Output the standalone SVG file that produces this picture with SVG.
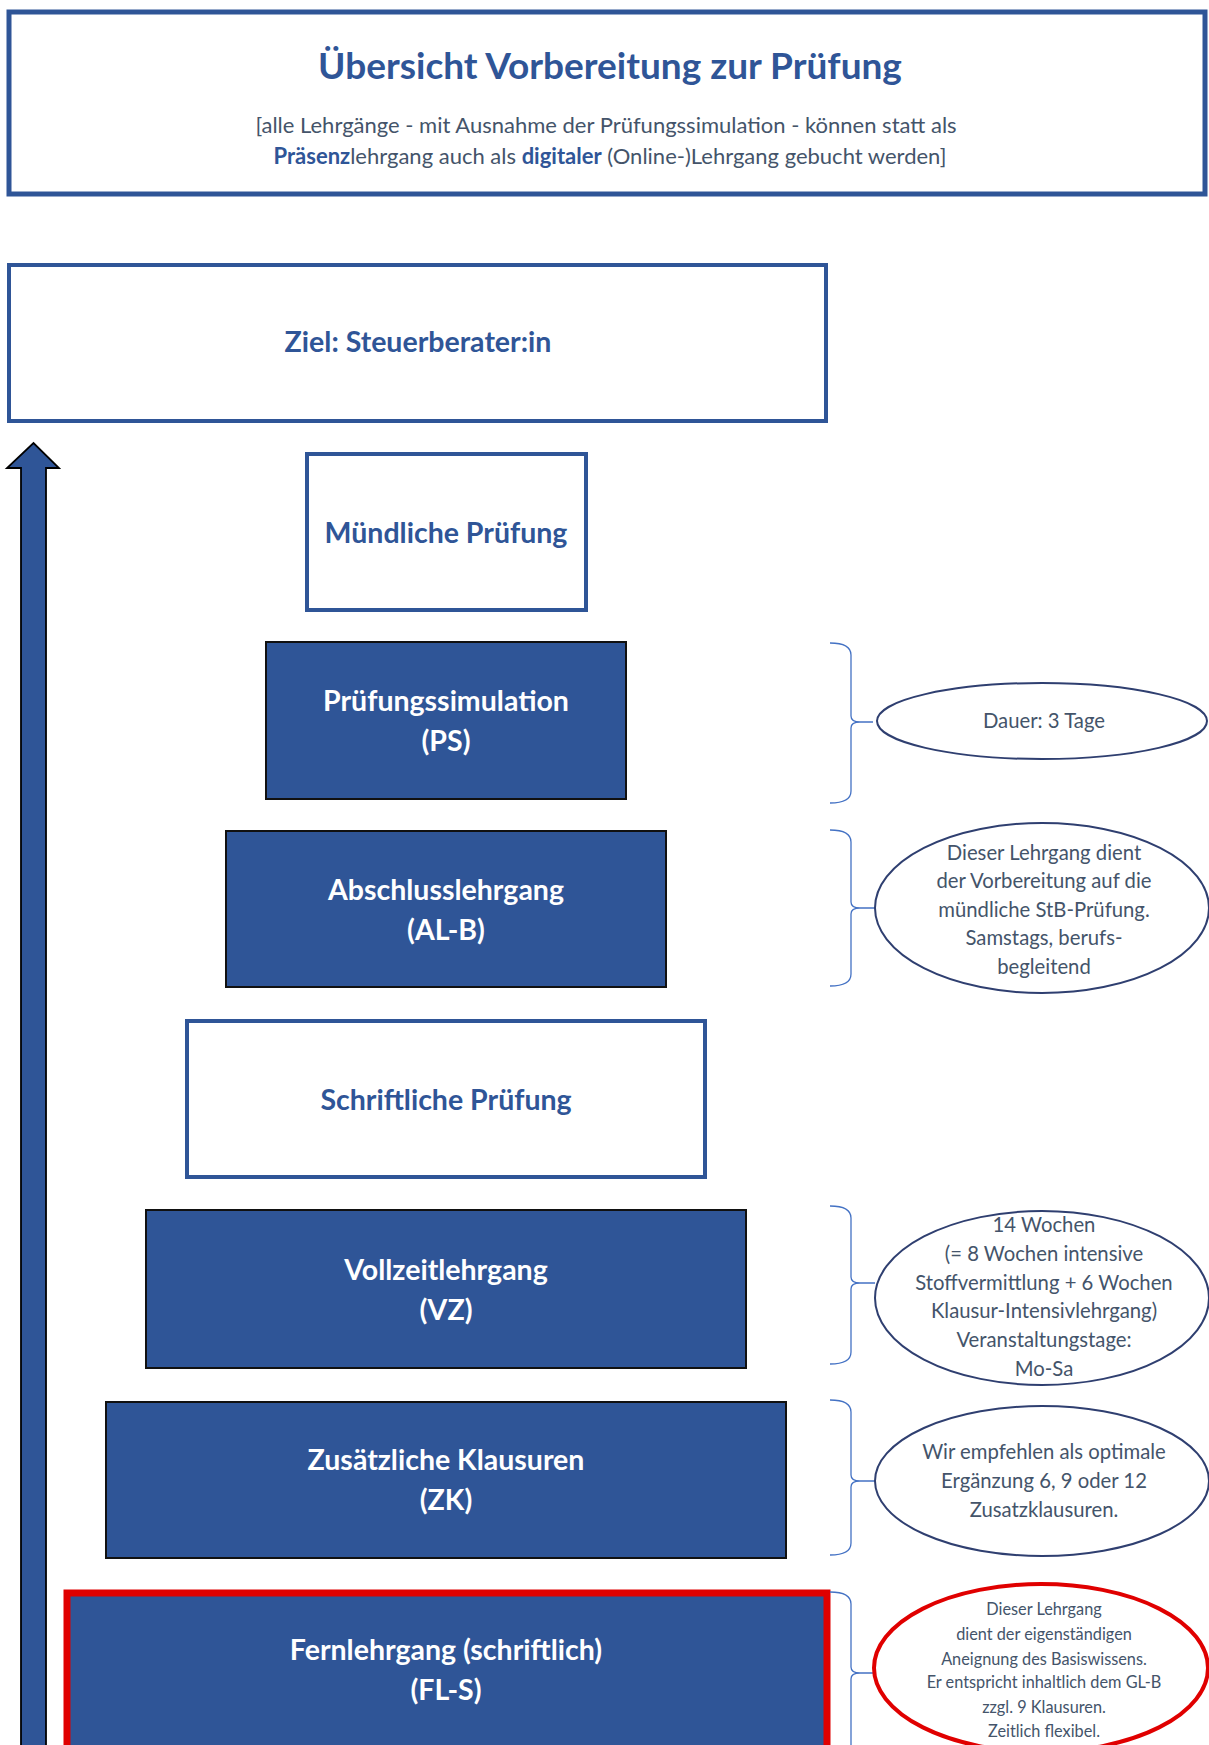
<svg xmlns="http://www.w3.org/2000/svg" width="1209" height="1745" viewBox="0 0 1209 1745">
<style>
.hdr{fill:#fff;stroke:#2F5597;stroke-width:5}
.box{fill:#fff;stroke:#2F5597;stroke-width:4}
.fbox{fill:#2F5597;stroke:#111;stroke-width:2}
.red{fill:#2F5597;stroke:#E00000;stroke-width:7}
.bt{font-family:Lato,"Liberation Sans",sans-serif;font-weight:bold;font-size:28.5px;fill:#2F5597;text-anchor:middle}
.wt{font-family:Lato,"Liberation Sans",sans-serif;font-weight:bold;font-size:28.5px;fill:#fff;text-anchor:middle}
.ell{fill:#fff;stroke:#2F3F70;stroke-width:2}
.ellr{fill:#fff;stroke:#E00000;stroke-width:4}
.et{font-family:Lato,"Liberation Sans",sans-serif;font-size:20.3px;fill:#44546A;text-anchor:middle}
.es{font-family:Lato,"Liberation Sans",sans-serif;font-size:16.3px;fill:#44546A;text-anchor:middle}
.brace{fill:none;stroke:#4472C4;stroke-width:1.3}
</style>
<rect width="1209" height="1745" fill="#fff"/>
<g id="header">
<rect class="hdr" x="9" y="12" width="1196" height="182"/>
<text x="610" y="79" font-family="Lato,'Liberation Sans',sans-serif" font-weight="bold" font-size="37" fill="#2F5597" text-anchor="middle">Übersicht Vorbereitung zur Prüfung</text>
<text x="606" y="133" font-family="Lato,'Liberation Sans',sans-serif" font-size="22" fill="#44546A" text-anchor="middle">[alle Lehrgänge - mit Ausnahme der Prüfungssimulation - können statt als</text>
<text x="610" y="164" font-family="Lato,'Liberation Sans',sans-serif" font-size="22" fill="#44546A" text-anchor="middle"><tspan font-weight="bold" fill="#2F5597">Präsenz</tspan>lehrgang auch als <tspan font-weight="bold" fill="#2F5597">digitaler</tspan> (Online-)Lehrgang gebucht werden]</text>
</g>
<g id="arrow">
<path d="M21,1760 L21,468 L7,468 L33.5,443 L59,468 L46,468 L46,1760 Z" fill="#2F5597" stroke="#000" stroke-width="1.8" stroke-linejoin="miter"/>
</g>
<g id="ziel">
<rect class="box" x="9" y="265" width="817" height="156"/>
<text class="bt" x="418" y="352">Ziel: Steuerberater:in</text>
</g>
<g id="muendlich">
<rect class="box" x="307" y="454" width="279" height="156"/>
<text class="bt" x="446" y="543">Mündliche Prüfung</text>
</g>
<g id="ps">
<rect class="fbox" x="266" y="642" width="360" height="157"/>
<text class="wt" x="446" y="711">Prüfungssimulation</text>
<text class="wt" x="446" y="751">(PS)</text>
</g>
<g id="alb">
<rect class="fbox" x="226" y="831" width="440" height="156"/>
<text class="wt" x="446" y="900">Abschlusslehrgang</text>
<text class="wt" x="446" y="940">(AL-B)</text>
</g>
<g id="schriftlich">
<rect class="box" x="187" y="1021" width="518" height="156"/>
<text class="bt" x="446" y="1110">Schriftliche Prüfung</text>
</g>
<g id="vz">
<rect class="fbox" x="146" y="1210" width="600" height="158"/>
<text class="wt" x="446" y="1280">Vollzeitlehrgang</text>
<text class="wt" x="446" y="1320">(VZ)</text>
</g>
<g id="zk">
<rect class="fbox" x="106" y="1402" width="680" height="156"/>
<text class="wt" x="446" y="1470">Zusätzliche Klausuren</text>
<text class="wt" x="446" y="1510">(ZK)</text>
</g>
<g id="fls">
<rect class="red" x="67" y="1593" width="760" height="200"/>
<text class="wt" x="446" y="1660">Fernlehrgang (schriftlich)</text>
<text class="wt" x="446" y="1700">(FL-S)</text>
</g>
<g id="connectors">
<path class="brace" d="M830,643 Q851,643 851,655 L851,716 Q851,722 860,722 L873,722 M860,722 Q851,722 851,728 L851,791 Q851,803 830,803"/>
<path class="brace" d="M830,830 Q851,830 851,842 L851,902 Q851,908 860,908 L875,908 M860,908 Q851,908 851,914 L851,974 Q851,986 830,986"/>
<path class="brace" d="M830,1206 Q851,1206 851,1218 L851,1277 Q851,1283 860,1283 L875,1283 M860,1283 Q851,1283 851,1289 L851,1352 Q851,1364 830,1364"/>
<path class="brace" d="M830,1400 Q851,1400 851,1412 L851,1475 Q851,1481 860,1481 L875,1481 M860,1481 Q851,1481 851,1487 L851,1543 Q851,1555 830,1555"/>
<path class="brace" d="M830,1592 Q851,1592 851,1604 L851,1667 Q851,1673 860,1673 L873,1673 M860,1673 Q851,1673 851,1679 L851,1760"/>
</g>
<g id="note-ps">
<ellipse class="ell" cx="1042" cy="721" rx="165" ry="38"/>
<text class="et" x="1044" y="728">Dauer: 3 Tage</text>
</g>
<g id="note-alb">
<ellipse class="ell" cx="1042" cy="908" rx="167" ry="85"/>
<text class="et" x="1044" y="860">Dieser Lehrgang dient</text>
<text class="et" x="1044" y="888">der Vorbereitung auf die</text>
<text class="et" x="1044" y="917">mündliche StB-Prüfung.</text>
<text class="et" x="1044" y="945">Samstags, berufs-</text>
<text class="et" x="1044" y="974">begleitend</text>
</g>
<g id="note-vz">
<ellipse class="ell" cx="1042" cy="1298" rx="167" ry="87"/>
<text class="et" x="1044" y="1232">14 Wochen</text>
<text class="et" x="1044" y="1261">(= 8 Wochen intensive</text>
<text class="et" x="1044" y="1290">Stoffvermittlung + 6 Wochen</text>
<text class="et" x="1044" y="1318">Klausur-Intensivlehrgang)</text>
<text class="et" x="1044" y="1347">Veranstaltungstage:</text>
<text class="et" x="1044" y="1376">Mo-Sa</text>
</g>
<g id="note-zk">
<ellipse class="ell" cx="1042" cy="1481" rx="167" ry="75"/>
<text class="et" x="1044" y="1459">Wir empfehlen als optimale</text>
<text class="et" x="1044" y="1488">Ergänzung 6, 9 oder 12</text>
<text class="et" x="1044" y="1517">Zusatzklausuren.</text>
</g>
<g id="note-fls">
<ellipse class="ellr" cx="1041" cy="1668" rx="167" ry="84"/>
<text class="es" x="1044" y="1615">Dieser Lehrgang</text>
<text class="es" x="1044" y="1640">dient der eigenständigen</text>
<text class="es" x="1044" y="1665">Aneignung des Basiswissens.</text>
<text class="es" x="1044" y="1688">Er entspricht inhaltlich dem GL-B</text>
<text class="es" x="1044" y="1713">zzgl. 9 Klausuren.</text>
<text class="es" x="1044" y="1737">Zeitlich flexibel.</text>
</g>
</svg>
